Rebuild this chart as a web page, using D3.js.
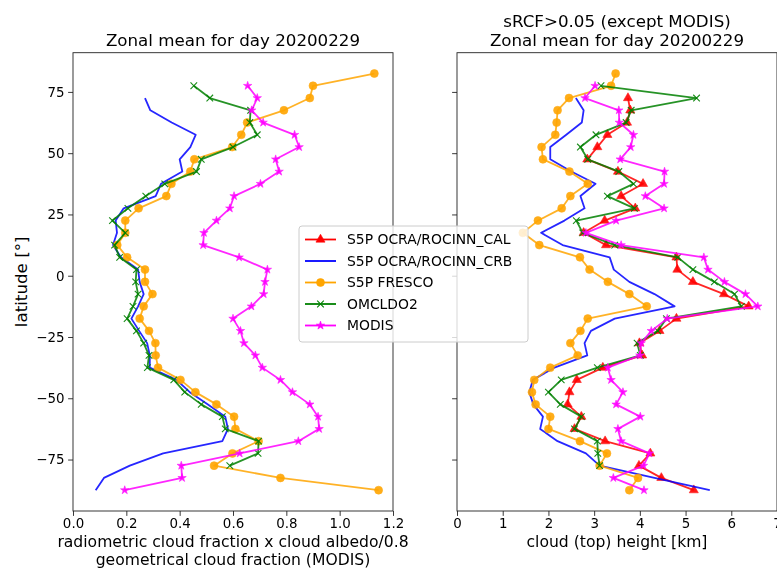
<!DOCTYPE html>
<html>
<head>
<meta charset="utf-8">
<script src="https://cdn.jsdelivr.net/npm/d3@7"></script>
<style>
  body { margin: 0; background: #fff; }
  svg { font-family: "DejaVu Sans", sans-serif; }
</style>
</head>
<body>
<div id="vis"></div>
<script>
// latitude bin centres (5 degree bins)
const lat = [82.5, 77.5, 72.5, 67.5, 62.5, 57.5, 52.5, 47.5, 42.5, 37.5, 32.5, 27.5,
  22.5, 17.5, 12.5, 7.5, 2.5, -2.5, -7.5, -12.5, -17.5, -22.5, -27.5, -32.5,
  -37.5, -42.5, -47.5, -52.5, -57.5, -62.5, -67.5, -72.5, -77.5, -82.5, -87.5];

// left panel: cloud fraction
const cfCRB = [null, null, 0.27, 0.29, 0.37, 0.46, 0.44, 0.40, 0.41, 0.33, 0.31, 0.19,
  0.16, 0.165, 0.15, 0.18, 0.244, 0.25, 0.265, 0.244, 0.219, 0.248, 0.278, 0.288,
  0.288, 0.388, 0.438, 0.506, 0.571, 0.581, 0.56, 0.338, 0.213, 0.116, 0.085];
const cfFRESCO = [1.13, 0.90, 0.888, 0.791, 0.653, 0.631, 0.597, 0.455, 0.44, 0.369, 0.35, 0.246,
  0.196, 0.196, 0.166, 0.203, 0.27, 0.27, 0.298, 0.265, 0.25, 0.285, 0.309, 0.31,
  0.319, 0.403, 0.459, 0.538, 0.604, 0.609, 0.696, 0.598, 0.529, 0.778, 1.146];
const cfOMCLDO2 = [null, 0.453, 0.513, 0.666, 0.663, 0.691, 0.60, 0.481, 0.463, 0.344, 0.273, 0.206,
  0.148, 0.196, 0.156, 0.175, 0.238, 0.235, 0.244, 0.225, 0.203, 0.238, 0.265, 0.285,
  0.279, 0.378, 0.419, 0.481, 0.56, 0.571, 0.696, 0.694, 0.588, null, null];
const cfMODIS = [null, 0.655, 0.691, 0.67, 0.713, 0.831, 0.848, 0.76, 0.773, 0.703, 0.604, 0.588,
  0.538, 0.491, 0.488, 0.623, 0.729, 0.72, 0.715, 0.669, 0.60, 0.628, 0.641, 0.684,
  0.71, 0.778, 0.823, 0.888, 0.919, 0.923, 0.845, 0.625, 0.406, 0.409, 0.194];

// right panel: cloud (top) height [km]
const hCAL = [null, null, 3.74, 3.79, 3.72, 3.29, 3.07, 2.85, 3.52, 4.07, 3.59, 3.9,
  3.23, 2.77, 3.26, 4.8, 4.82, 5.16, 5.84, 6.38, 4.8, 4.43, 3.99, 4.05,
  3.19, 2.62, 2.46, 2.42, 2.72, 2.57, 3.24, 4.23, 3.98, 4.47, 5.18];
const hCRB = [null, null, 2.6, 2.77, 2.73, 2.39, 2.04, 2.04, 2.5, 3.03, 2.7, 2.79,
  2.35, 1.84, 2.31, 3.34, 3.43, 3.77, 4.32, 4.76, 3.45, 2.93, 2.79, 2.85,
  2.13, 1.66, 1.58, 1.67, 1.88, 1.82, 2.2, 2.82, 3.12, 4.32, 5.53];
const hFRESCO = [3.47, 3.37, 2.45, 2.2, 2.18, 2.15, 1.85, 1.88, 2.46, 2.86, 2.48, 2.29,
  1.77, 1.44, 1.8, 2.69, 2.9, 3.3, 3.77, 4.15, 2.86, 2.7, 2.48, 2.64,
  2.04, 1.69, 1.64, 1.72, 2.04, 2.0, 2.69, 3.28, 3.12, 3.96, 3.77];
const hOMCLDO2 = [null, 3.15, 5.24, 3.81, 3.7, 3.04, 2.7, 2.86, 3.54, 3.86, 3.29, 3.88,
  2.61, 2.75, 3.45, 4.83, 5.16, 5.63, 6.07, 6.22, 4.58, 4.39, 3.94, 4.01,
  3.07, 2.28, 2.0, 2.26, 2.72, 2.57, 3.07, 3.08, 3.12, null, null];
const hMODIS = [null, 3.02, 2.8, 3.54, 3.55, 3.86, 3.8, 3.57, 4.54, 4.53, 4.12, 4.53,
  3.48, 2.82, 3.59, 5.4, 5.49, 5.85, 6.31, 6.58, 4.6, 4.25, 4.03, 4.0,
  3.3, 3.37, 3.63, 3.48, 4.01, 3.52, 3.59, 4.21, 4.08, 3.42, 4.09];

const names = ["S5P OCRA/ROCINN_CAL", "S5P OCRA/ROCINN_CRB", "S5P FRESCO", "OMCLDO2", "MODIS"];
const colors = ["red", "blue", "orange", "green", "magenta"];
const markers = ["triangle", "none", "circle", "x", "star"];
const latTicks = [-75, -50, -25, 0, 25, 50, 75];
const cfTicks = [0, 0.2, 0.4, 0.6, 0.8, 1.0, 1.2];
const hTicks = [0, 1, 2, 3, 4, 5, 6, 7];

const width = 777;
const height = 569;
const plotTop = 52.7, plotBottom = 511;

const svg = d3.select("#vis").append("svg")
  .attr("width", width)
  .attr("height", height);

const y = d3.scaleLinear().domain([-96, 91]).range([plotBottom, plotTop]);

function markerPath(kind) {
  if (kind == "triangle") return d3.symbol(d3.symbolTriangle, 36)();
  if (kind == "circle") return d3.symbol(d3.symbolCircle, 50)();
  if (kind == "star") return d3.symbol(d3.symbolStar, 22)();
  if (kind == "x") return "M-3.3,-3.3L3.3,3.3M-3.3,3.3L3.3,-3.3";
  return null;
}

function drawMarker(g, kind, color, cx, cy) {
  const p = markerPath(kind);
  if (!p) return;
  const m = g.append("path")
    .attr("d", p)
    .attr("transform", `translate(${cx},${cy})`);
  if (kind == "x") m.attr("fill", "none").attr("stroke", color).attr("stroke-width", 1.1);
  else m.attr("fill", color).attr("stroke", color).attr("stroke-width", 0.6);
}

function drawPanel(x, ticks, fmt, series, titleLines, labelLines, yLabels) {
  const g = svg.append("g");
  const [x0, x1] = x.range();

  // series, drawn in legend order
  series.forEach((vals, i) => {
    if (!vals) return;
    const pts = lat.map((l, j) => ({l, v: vals[j]})).filter(d => d.v != null);
    const line = d3.line().x(d => x(d.v)).y(d => y(d.l));
    g.append("path")
      .attr("d", line(pts))
      .attr("fill", "none")
      .attr("stroke", colors[i])
      .attr("stroke-width", 1.8)
      .attr("stroke-opacity", 0.85)
      .attr("stroke-linejoin", "round");
    const mg = g.append("g").attr("opacity", 0.9);
    pts.forEach(d => drawMarker(mg, markers[i], colors[i], x(d.v), y(d.l)));
  });

  // frame
  g.append("rect")
    .attr("x", x0).attr("y", plotTop)
    .attr("width", x1 - x0).attr("height", plotBottom - plotTop)
    .attr("fill", "none").attr("stroke", "#222").attr("stroke-width", 0.9);

  const xAxis = d3.axisBottom(x).tickValues(ticks).tickSize(4.9).tickPadding(2.5)
    .tickFormat(fmt);
  g.append("g")
    .attr("transform", `translate(0,${plotBottom})`)
    .call(xAxis)
    .call(a => a.select(".domain").remove())
    .call(a => a.selectAll("line").attr("stroke", "#222").attr("stroke-width", 0.9))
    .call(a => a.selectAll("text").attr("font-size", 13.4).attr("fill", "#000")
      .attr("font-family", "DejaVu Sans"));

  const yAxis = d3.axisLeft(y).tickValues(latTicks).tickSize(4.9).tickPadding(3.5)
    .tickFormat(d => yLabels ? String(d).replace("-", "\u2212") : "");
  g.append("g")
    .attr("transform", `translate(${x0},0)`)
    .call(yAxis)
    .call(a => a.select(".domain").remove())
    .call(a => a.selectAll("line").attr("stroke", "#222").attr("stroke-width", 0.9))
    .call(a => a.selectAll("text").attr("font-size", 13.4).attr("fill", "#000")
      .attr("font-family", "DejaVu Sans"));

  const cx = (x0 + x1) / 2;
  titleLines.forEach((t, i) => {
    g.append("text")
      .attr("x", cx).attr("y", 46 - (titleLines.length - 1 - i) * 19.5)
      .attr("text-anchor", "middle").attr("font-size", 16.7)
      .text(t);
  });
  labelLines.forEach((t, i) => {
    g.append("text")
      .attr("x", cx).attr("y", 547 + i * 18)
      .attr("text-anchor", "middle").attr("font-size", 15.6)
      .text(t);
  });
}

const xLeft = d3.scaleLinear().domain([0, 1.2]).range([73, 393]);
const xRight = d3.scaleLinear().domain([0, 7]).range([457, 777]);

drawPanel(xLeft, cfTicks, d3.format(".1f"), [null, cfCRB, cfFRESCO, cfOMCLDO2, cfMODIS],
  ["Zonal mean for day 20200229"],
  ["radiometric cloud fraction x cloud albedo/0.8", "geometrical cloud fraction (MODIS)"], true);
drawPanel(xRight, hTicks, d3.format("d"), [hCAL, hCRB, hFRESCO, hOMCLDO2, hMODIS],
  ["sRCF>0.05 (except MODIS)", "Zonal mean for day 20200229"],
  ["cloud (top) height [km]"], false);

svg.append("text")
  .attr("transform", `translate(27,${(plotTop + plotBottom) / 2}) rotate(-90)`)
  .attr("text-anchor", "middle").attr("font-size", 16.7)
  .text("latitude [\u00b0]");

// legend
const lg = svg.append("g").attr("transform", "translate(299,226)");
lg.append("rect")
  .attr("width", 229).attr("height", 116).attr("rx", 3)
  .attr("fill", "white").attr("fill-opacity", 0.8)
  .attr("stroke", "#ccc").attr("stroke-width", 1);
names.forEach((n, i) => {
  const ry = 13.5 + i * 21.5;
  lg.append("line")
    .attr("x1", 6).attr("x2", 37).attr("y1", ry).attr("y2", ry)
    .attr("stroke", colors[i]).attr("stroke-width", 1.8);
  drawMarker(lg, markers[i], colors[i], 21.5, ry);
  lg.append("text")
    .attr("x", 48).attr("y", ry).attr("dy", "0.35em")
    .attr("font-size", 13.9)
    .text(n);
});
</script>
</body>
</html>
